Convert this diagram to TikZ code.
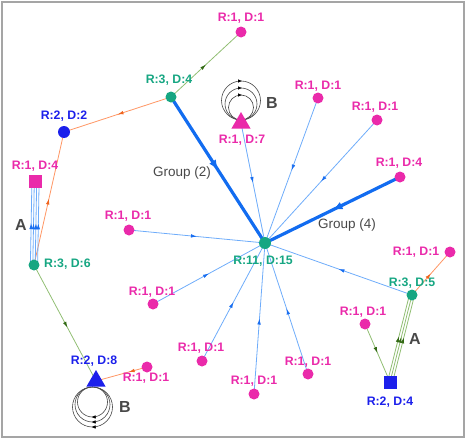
\documentclass[tikz,border=0pt]{standalone}
\usepackage{fontspec}
\setsansfont{Liberation Sans}
\usetikzlibrary{arrows.meta,decorations.markings,shapes.geometric,calc}
\pgfdeclarelayer{bg}
\pgfsetlayers{bg,main}
\definecolor{pnk}{RGB}{234,42,170}
\definecolor{tealc}{RGB}{22,166,130}
\definecolor{bluc}{RGB}{28,32,235}
\definecolor{lbl}{RGB}{110,172,250}
\definecolor{dbl}{RGB}{25,110,240}
\definecolor{tbl}{RGB}{18,108,240}
\definecolor{orl}{RGB}{255,150,100}
\definecolor{ora}{RGB}{240,100,30}
\definecolor{grl}{RGB}{145,190,115}
\definecolor{gra}{RGB}{50,105,20}
\definecolor{txg}{RGB}{72,72,72}
\definecolor{frm}{RGB}{165,165,165}
\definecolor{lpc}{RGB}{70,70,70}
\tikzset{
 lab/.style={font=\sffamily\bfseries\fontsize{12.3}{14}\selectfont, inner sep=0pt},
 plab/.style={lab, text=pnk},
 tlab/.style={lab, text=tealc},
 blab/.style={lab, text=bluc},
 glab/.style={font=\sffamily\fontsize{13.5}{15}\selectfont, text=txg, inner sep=0pt},
 ablab/.style={font=\sffamily\bfseries\fontsize{16}{18}\selectfont, text=txg, inner sep=0pt},
 pdot/.style={circle, fill=pnk, minimum size=11pt, inner sep=0pt},
 tdot/.style={circle, fill=tealc, minimum size=11pt, inner sep=0pt},
 bdot/.style={circle, fill=bluc, minimum size=12pt, inner sep=0pt},
 psq/.style={rectangle, fill=pnk, minimum size=13pt, inner sep=0pt},
 bsq/.style={rectangle, fill=bluc, minimum size=13pt, inner sep=0pt},
 tri/.style={regular polygon, regular polygon sides=3, minimum size=22pt, inner sep=0pt},
 ebl/.style={draw=lbl, line width=0.8pt, postaction={decorate, decoration={markings, mark=at position #1 with {\arrow{Latex[length=6pt,width=3.6pt,color=dbl]}}}}},
 ebl/.default=0.5,
 ethick/.style={draw=tbl, line width=3.2pt, postaction={decorate, decoration={markings, mark=at position 0.5 with {\arrow{Latex[length=10pt,width=8pt,color=tbl]}}}}},
 eor/.style={draw=orl, line width=0.8pt, postaction={decorate, decoration={markings, mark=at position #1 with {\arrow{Latex[length=6pt,width=3.6pt,color=ora]}}}}},
 eor/.default=0.5,
 egr/.style={draw=grl, line width=0.8pt, postaction={decorate, decoration={markings, mark=at position #1 with {\arrow{Latex[length=6pt,width=3.6pt,color=gra]}}}}},
 egr/.default=0.5,
 loopline/.style={draw=lpc, line width=0.6pt},
 looptip/.style={draw=lpc, line width=0.6pt, -{Latex[length=4pt,width=3.5pt,color=black]}},
}
\begin{document}
\begin{tikzpicture}[x=1pt,y=-1pt]
\useasboundingbox (0,0) rectangle (466,439);
\draw[frm, line width=2.5pt] (1.8,1.8) rectangle (464.2,437.2);

% nodes
\node[tdot, minimum size=12pt] (c) at (265,243) {};
\node[pdot] (ntop) at (241,32) {};
\node[tdot] (t1) at (171,97) {};
\node[bdot] (b1) at (64,132) {};
\node[psq] (sq1) at (35.5,181.5) {};
\node[tdot] (l1) at (34,265) {};
\node[tri, fill=bluc] (tri1) at (96,381) {};
\node[pdot] (pbl) at (147,367) {};
\node[tri, fill=pnk] (tri2) at (241,123) {};
\node[pdot] (p1) at (318,98) {};
\node[pdot] (p2) at (377,120) {};
\node[pdot] (p3) at (400,177) {};
\node[pdot] (p4) at (129,230) {};
\node[pdot] (p5) at (153,304) {};
\node[pdot] (p6) at (202,361) {};
\node[pdot] (p7) at (254,394) {};
\node[pdot] (p8) at (308,374) {};
\node[pdot] (p10) at (365,324) {};
\node[tdot] (t2) at (412,295) {};
\node[pdot] (p11) at (450,252) {};
\node[bsq] (sq2) at (390,382) {};

% labels
\node[tlab] (lc) at (263,261) {R:11, D:15};
\node[plab] (lntop) at (241,18) {R:1, D:1};
\node[tlab] (lt1) at (169,80) {R:3, D:4};
\node[blab] (lb1) at (64,116) {R:2, D:2};
\node[plab] (lsq1) at (35,166) {R:1, D:4};
\node[tlab, anchor=west] (ll1) at (44,264) {R:3, D:6};
\node[blab] (ltri1) at (94,361) {R:2, D:8};
\node[plab] (lpbl) at (146,378) {R:1, D:1};
\node[plab] (ltri2) at (242,140) {R:1, D:7};
\node[plab] (lp1) at (318,86) {R:1, D:1};
\node[plab] (lp2) at (375,107) {R:1, D:1};
\node[plab] (lp3) at (399,163) {R:1, D:4};
\node[plab] (lp4) at (128,216) {R:1, D:1};
\node[plab] (lp5) at (152,292) {R:1, D:1};
\node[plab] (lp6) at (201,348) {R:1, D:1};
\node[plab] (lp7) at (254,381) {R:1, D:1};
\node[plab] (lp8) at (308,362) {R:1, D:1};
\node[plab] (lp10) at (363,312) {R:1, D:1};
\node[tlab] (lt2) at (412,283) {R:3, D:5};
\node[plab] (lp11) at (416,252) {R:1, D:1};
\node[blab] (lsq2) at (390,402) {R:2, D:4};
\node[glab] (g2) at (182,173) {Group (2)};
\node[glab] (g4) at (347,225) {Group (4)};
\node[ablab] (aleft) at (21,225) {A};
\node[ablab] (aright) at (415,339) {A};
\node[ablab] (btop) at (272,103) {B};
\node[ablab] (bbot) at (125,407) {B};

\begin{pgfonlayer}{bg}
\draw[egr] (t1.center) -- (ntop.center);
\draw[eor] (t1.center) -- (b1.center);
\draw[eor] (l1.center) -- (b1.center);
\foreach \o in {-3.6,-1.2,1.2,3.6}{
  \draw[ebl] ($(l1.center)!\o pt!90:(sq1.center)$) -- ($(sq1.center)!\o pt!-90:(l1.center)$);
}
\draw[egr=0.54] (l1.center) -- (tri1.center);
\draw[eor=0.36] (pbl.center) -- (tri1.center);
\draw[ethick] (t1.center) -- (c.center);
\draw[ethick] (p3.center) -- (c.center);
\foreach \n in {tri2,p1,p2,p4,p5,p6,p7,p8,t2}{
  \draw[ebl] (\n.center) -- (c.center);
}
\draw[eor] (t2.center) -- (p11.center);
\draw[egr] (p10.center) -- (sq2.center);
\foreach \o in {-2.5,0,2.5}{
  \draw[egr=0.52] ($(sq2.center)!\o pt!90:(t2.center)$) -- ($(t2.center)!\o pt!-90:(sq2.center)$);
}
% self loops
\coordinate (tb) at (241,120);
\foreach \r in {19.5,16,12.5}{
  \draw[loopline] (tb) ++(0,-\r) circle[radius=\r pt];
  \draw[looptip] ($(tb)+(-3,-2*\r)$) -- ++(4,0);
}
\coordinate (tt) at (92.5,387);
\foreach \r in {20,17.5,15}{
  \draw[loopline] (tt) ++(0,\r) circle[radius=\r pt];
  \draw[looptip] ($(tt)+(3,2*\r)$) -- ++(-4,0);
}
\end{pgfonlayer}
\end{tikzpicture}
\end{document}
